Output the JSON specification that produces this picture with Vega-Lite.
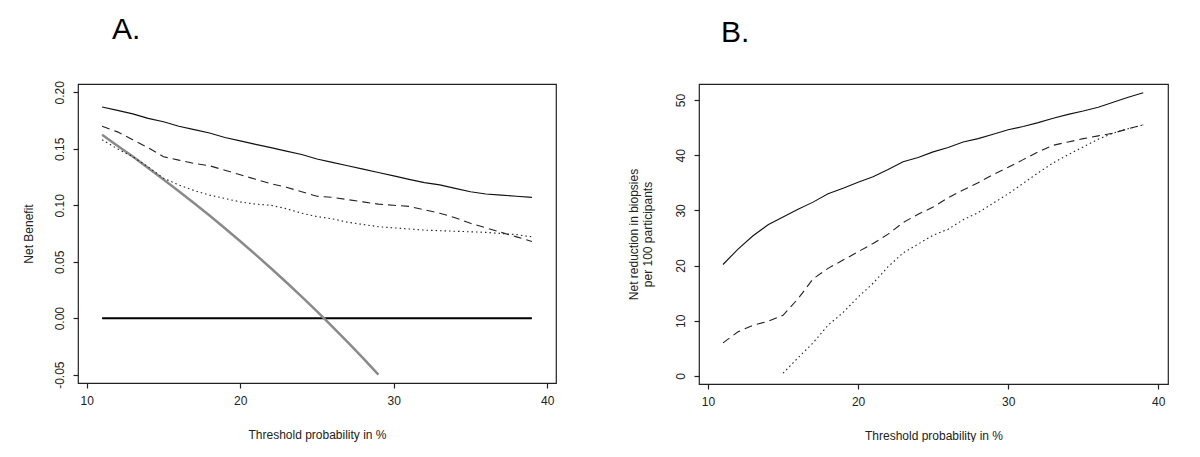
{
  "$schema": "https://vega.github.io/schema/vega-lite/v6.json",
  "background": "white",
  "padding": {"left": 21, "top": 14, "right": 0, "bottom": 0},
  "spacing": 69,
  "datasets": {
    "a": [
      {"x": 11, "y": 0.187, "s": "solid"}, {"x": 12, "y": 0.184, "s": "solid"}, {"x": 13, "y": 0.181, "s": "solid"}, {"x": 14, "y": 0.177, "s": "solid"}, {"x": 15, "y": 0.174, "s": "solid"}, {"x": 16, "y": 0.170, "s": "solid"}, {"x": 17, "y": 0.167, "s": "solid"}, {"x": 18, "y": 0.164, "s": "solid"}, {"x": 19, "y": 0.160, "s": "solid"}, {"x": 20, "y": 0.157, "s": "solid"}, {"x": 21, "y": 0.154, "s": "solid"}, {"x": 22, "y": 0.151, "s": "solid"}, {"x": 23, "y": 0.148, "s": "solid"}, {"x": 24, "y": 0.145, "s": "solid"}, {"x": 25, "y": 0.141, "s": "solid"}, {"x": 26, "y": 0.138, "s": "solid"}, {"x": 27, "y": 0.135, "s": "solid"}, {"x": 28, "y": 0.132, "s": "solid"}, {"x": 29, "y": 0.129, "s": "solid"}, {"x": 30, "y": 0.126, "s": "solid"}, {"x": 31, "y": 0.123, "s": "solid"}, {"x": 32, "y": 0.120, "s": "solid"}, {"x": 33, "y": 0.118, "s": "solid"}, {"x": 34, "y": 0.115, "s": "solid"}, {"x": 35, "y": 0.112, "s": "solid"}, {"x": 36, "y": 0.110, "s": "solid"}, {"x": 37, "y": 0.109, "s": "solid"}, {"x": 38, "y": 0.108, "s": "solid"}, {"x": 39, "y": 0.107, "s": "solid"},
      {"x": 11, "y": 0.170, "s": "dashed"}, {"x": 12, "y": 0.165, "s": "dashed"}, {"x": 13, "y": 0.158, "s": "dashed"}, {"x": 14, "y": 0.151, "s": "dashed"}, {"x": 15, "y": 0.143, "s": "dashed"}, {"x": 16, "y": 0.140, "s": "dashed"}, {"x": 17, "y": 0.137, "s": "dashed"}, {"x": 18, "y": 0.135, "s": "dashed"}, {"x": 19, "y": 0.131, "s": "dashed"}, {"x": 20, "y": 0.127, "s": "dashed"}, {"x": 21, "y": 0.123, "s": "dashed"}, {"x": 22, "y": 0.119, "s": "dashed"}, {"x": 23, "y": 0.116, "s": "dashed"}, {"x": 24, "y": 0.112, "s": "dashed"}, {"x": 25, "y": 0.108, "s": "dashed"}, {"x": 26, "y": 0.107, "s": "dashed"}, {"x": 27, "y": 0.105, "s": "dashed"}, {"x": 28, "y": 0.103, "s": "dashed"}, {"x": 29, "y": 0.101, "s": "dashed"}, {"x": 30, "y": 0.100, "s": "dashed"}, {"x": 31, "y": 0.099, "s": "dashed"}, {"x": 32, "y": 0.096, "s": "dashed"}, {"x": 33, "y": 0.093, "s": "dashed"}, {"x": 34, "y": 0.089, "s": "dashed"}, {"x": 35, "y": 0.084, "s": "dashed"}, {"x": 36, "y": 0.080, "s": "dashed"}, {"x": 37, "y": 0.076, "s": "dashed"}, {"x": 38, "y": 0.072, "s": "dashed"}, {"x": 39, "y": 0.068, "s": "dashed"},
      {"x": 11, "y": 0.158, "s": "dotted"}, {"x": 12, "y": 0.150, "s": "dotted"}, {"x": 13, "y": 0.143, "s": "dotted"}, {"x": 14, "y": 0.134, "s": "dotted"}, {"x": 15, "y": 0.124, "s": "dotted"}, {"x": 16, "y": 0.118, "s": "dotted"}, {"x": 17, "y": 0.113, "s": "dotted"}, {"x": 18, "y": 0.109, "s": "dotted"}, {"x": 19, "y": 0.106, "s": "dotted"}, {"x": 20, "y": 0.103, "s": "dotted"}, {"x": 21, "y": 0.101, "s": "dotted"}, {"x": 22, "y": 0.100, "s": "dotted"}, {"x": 23, "y": 0.097, "s": "dotted"}, {"x": 24, "y": 0.093, "s": "dotted"}, {"x": 25, "y": 0.090, "s": "dotted"}, {"x": 26, "y": 0.088, "s": "dotted"}, {"x": 27, "y": 0.085, "s": "dotted"}, {"x": 28, "y": 0.083, "s": "dotted"}, {"x": 29, "y": 0.081, "s": "dotted"}, {"x": 30, "y": 0.080, "s": "dotted"}, {"x": 31, "y": 0.079, "s": "dotted"}, {"x": 32, "y": 0.078, "s": "dotted"}, {"x": 33, "y": 0.0775, "s": "dotted"}, {"x": 34, "y": 0.077, "s": "dotted"}, {"x": 35, "y": 0.0765, "s": "dotted"}, {"x": 36, "y": 0.076, "s": "dotted"}, {"x": 37, "y": 0.075, "s": "dotted"}, {"x": 38, "y": 0.074, "s": "dotted"}, {"x": 39, "y": 0.072, "s": "dotted"},
      {"x": 11, "y": 0.1624, "s": "all"}, {"x": 12, "y": 0.1528, "s": "all"}, {"x": 13, "y": 0.1431, "s": "all"}, {"x": 14, "y": 0.1331, "s": "all"}, {"x": 15, "y": 0.1229, "s": "all"}, {"x": 16, "y": 0.1125, "s": "all"}, {"x": 17, "y": 0.1018, "s": "all"}, {"x": 18, "y": 0.0909, "s": "all"}, {"x": 19, "y": 0.0796, "s": "all"}, {"x": 20, "y": 0.0681, "s": "all"}, {"x": 21, "y": 0.0563, "s": "all"}, {"x": 22, "y": 0.0442, "s": "all"}, {"x": 23, "y": 0.0318, "s": "all"}, {"x": 24, "y": 0.0191, "s": "all"}, {"x": 25, "y": 0.0060, "s": "all"}, {"x": 26, "y": -0.0074, "s": "all"}, {"x": 27, "y": -0.0212, "s": "all"}, {"x": 28, "y": -0.0354, "s": "all"}, {"x": 29, "y": -0.0500, "s": "all"},
      {"x": 11, "y": 0, "s": "none"}, {"x": 39, "y": 0, "s": "none"}
    ],
    "b": [
      {"x": 11, "y": 20.2, "s": "solid"}, {"x": 12, "y": 23.0, "s": "solid"}, {"x": 13, "y": 25.4, "s": "solid"}, {"x": 14, "y": 27.4, "s": "solid"}, {"x": 15, "y": 28.8, "s": "solid"}, {"x": 16, "y": 30.2, "s": "solid"}, {"x": 17, "y": 31.5, "s": "solid"}, {"x": 18, "y": 33.0, "s": "solid"}, {"x": 19, "y": 34.0, "s": "solid"}, {"x": 20, "y": 35.1, "s": "solid"}, {"x": 21, "y": 36.1, "s": "solid"}, {"x": 22, "y": 37.4, "s": "solid"}, {"x": 23, "y": 38.8, "s": "solid"}, {"x": 24, "y": 39.6, "s": "solid"}, {"x": 25, "y": 40.6, "s": "solid"}, {"x": 26, "y": 41.4, "s": "solid"}, {"x": 27, "y": 42.4, "s": "solid"}, {"x": 28, "y": 43.0, "s": "solid"}, {"x": 29, "y": 43.8, "s": "solid"}, {"x": 30, "y": 44.6, "s": "solid"}, {"x": 31, "y": 45.2, "s": "solid"}, {"x": 32, "y": 45.9, "s": "solid"}, {"x": 33, "y": 46.7, "s": "solid"}, {"x": 34, "y": 47.4, "s": "solid"}, {"x": 35, "y": 48.0, "s": "solid"}, {"x": 36, "y": 48.7, "s": "solid"}, {"x": 37, "y": 49.6, "s": "solid"}, {"x": 38, "y": 50.5, "s": "solid"}, {"x": 39, "y": 51.3, "s": "solid"},
      {"x": 11, "y": 6.0, "s": "dashed"}, {"x": 12, "y": 8.0, "s": "dashed"}, {"x": 13, "y": 9.2, "s": "dashed"}, {"x": 14, "y": 9.9, "s": "dashed"}, {"x": 15, "y": 11.0, "s": "dashed"}, {"x": 16, "y": 14.0, "s": "dashed"}, {"x": 17, "y": 17.6, "s": "dashed"}, {"x": 18, "y": 19.5, "s": "dashed"}, {"x": 19, "y": 21.0, "s": "dashed"}, {"x": 20, "y": 22.5, "s": "dashed"}, {"x": 21, "y": 24.0, "s": "dashed"}, {"x": 22, "y": 25.7, "s": "dashed"}, {"x": 23, "y": 27.8, "s": "dashed"}, {"x": 24, "y": 29.3, "s": "dashed"}, {"x": 25, "y": 30.6, "s": "dashed"}, {"x": 26, "y": 32.3, "s": "dashed"}, {"x": 27, "y": 33.7, "s": "dashed"}, {"x": 28, "y": 35.0, "s": "dashed"}, {"x": 29, "y": 36.5, "s": "dashed"}, {"x": 30, "y": 37.8, "s": "dashed"}, {"x": 31, "y": 39.2, "s": "dashed"}, {"x": 32, "y": 40.6, "s": "dashed"}, {"x": 33, "y": 41.8, "s": "dashed"}, {"x": 34, "y": 42.4, "s": "dashed"}, {"x": 35, "y": 43.0, "s": "dashed"}, {"x": 36, "y": 43.5, "s": "dashed"}, {"x": 37, "y": 44.0, "s": "dashed"}, {"x": 38, "y": 44.8, "s": "dashed"}, {"x": 39, "y": 45.5, "s": "dashed"},
      {"x": 15, "y": 0.5, "s": "dotted"}, {"x": 16, "y": 3.3, "s": "dotted"}, {"x": 17, "y": 6.0, "s": "dotted"}, {"x": 18, "y": 9.2, "s": "dotted"}, {"x": 19, "y": 11.5, "s": "dotted"}, {"x": 20, "y": 14.3, "s": "dotted"}, {"x": 21, "y": 16.8, "s": "dotted"}, {"x": 22, "y": 19.8, "s": "dotted"}, {"x": 23, "y": 22.3, "s": "dotted"}, {"x": 24, "y": 23.9, "s": "dotted"}, {"x": 25, "y": 25.5, "s": "dotted"}, {"x": 26, "y": 26.6, "s": "dotted"}, {"x": 27, "y": 28.3, "s": "dotted"}, {"x": 28, "y": 29.6, "s": "dotted"}, {"x": 29, "y": 31.3, "s": "dotted"}, {"x": 30, "y": 33.0, "s": "dotted"}, {"x": 31, "y": 34.9, "s": "dotted"}, {"x": 32, "y": 36.8, "s": "dotted"}, {"x": 33, "y": 38.6, "s": "dotted"}, {"x": 34, "y": 40.1, "s": "dotted"}, {"x": 35, "y": 41.5, "s": "dotted"}, {"x": 36, "y": 42.9, "s": "dotted"}, {"x": 37, "y": 44.0, "s": "dotted"}, {"x": 38, "y": 44.8, "s": "dotted"}, {"x": 39, "y": 45.5, "s": "dotted"}
    ]
  },
  "hconcat": [
    {
      "width": 478,
      "height": 299,
      "title": {"text": "A.", "anchor": "start", "frame": "group", "dx": 34, "offset": 12, "baseline": "alphabetic", "fontSize": 30, "fontWeight": "normal", "font": "Liberation Sans", "color": "#000"},
      "data": {"name": "a"},
      "encoding": {
        "x": {"field": "x", "type": "quantitative", "scale": {"domain": [9.43, 40.57], "nice": false, "zero": false},
              "axis": {"values": [10, 20, 30, 40], "title": "Threshold probability in %"}},
        "y": {"field": "y", "type": "quantitative", "scale": {"domain": [-0.0574, 0.2074], "nice": false, "zero": false},
              "axis": {"values": [-0.05, 0, 0.05, 0.1, 0.15, 0.2], "format": ".2f", "labelExpr": "replace(datum.label, '\u2212', '-')", "title": "Net Benefit"}}
      },
      "layer": [
        {"transform": [{"filter": "datum.s === 'none'"}], "mark": {"type": "line", "color": "#000", "strokeWidth": 2}},
        {"transform": [{"filter": "datum.s === 'all'"}], "mark": {"type": "line", "color": "#8a8a8a", "strokeWidth": 2.5}},
        {"transform": [{"filter": "datum.s === 'solid'"}], "mark": {"type": "line", "color": "#111", "strokeWidth": 1.2}},
        {"transform": [{"filter": "datum.s === 'dashed'"}], "mark": {"type": "line", "color": "#222", "strokeWidth": 1.1, "strokeDash": [8, 5]}},
        {"transform": [{"filter": "datum.s === 'dotted'"}], "mark": {"type": "line", "color": "#222", "strokeWidth": 1.1, "strokeDash": [1.5, 3]}}
      ]
    },
    {
      "width": 469,
      "height": 300,
      "title": {"text": "B.", "anchor": "start", "frame": "group", "dx": 22, "offset": 12, "baseline": "alphabetic", "fontSize": 30, "fontWeight": "normal", "font": "Liberation Sans", "color": "#000"},
      "data": {"name": "b"},
      "encoding": {
        "x": {"field": "x", "type": "quantitative", "scale": {"domain": [9.4, 40.65], "nice": false, "zero": false},
              "axis": {"values": [10, 20, 30, 40], "title": "Threshold probability in %"}},
        "y": {"field": "y", "type": "quantitative", "scale": {"domain": [-1.45, 52.9], "nice": false, "zero": false},
              "axis": {"values": [0, 10, 20, 30, 40, 50], "title": ["Net reduction in biopsies", "per 100 participants"], "titlePadding": 20}}
      },
      "layer": [
        {"transform": [{"filter": "datum.s === 'solid'"}], "mark": {"type": "line", "color": "#111", "strokeWidth": 1.1}},
        {"transform": [{"filter": "datum.s === 'dashed'"}], "mark": {"type": "line", "color": "#222", "strokeWidth": 1.1, "strokeDash": [8, 5]}},
        {"transform": [{"filter": "datum.s === 'dotted'"}], "mark": {"type": "line", "color": "#222", "strokeWidth": 1.1, "strokeDash": [1.5, 3]}}
      ]
    }
  ],
  "config": {
    "font": "Liberation Sans",
    "view": {"stroke": "#222", "strokeWidth": 1.2},
    "axis": {
      "domain": false,
      "grid": false,
      "ticks": true,
      "tickSize": 5,
      "tickColor": "#222",
      "tickWidth": 1.2,
      "labelFont": "Liberation Sans",
      "labelFontSize": 12,
      "labelColor": "#222",
      "labelPadding": 7,
      "titleFont": "Liberation Sans",
      "titleFontSize": 12,
      "titleFontWeight": "normal",
      "titleColor": "#222"
    },
    "axisX": {"titlePadding": 23, "labelFlush": false},
    "axisY": {"labelAngle": -90, "labelAlign": "center", "labelBaseline": "bottom", "titlePadding": 18, "labelFlush": false}
  }
}
